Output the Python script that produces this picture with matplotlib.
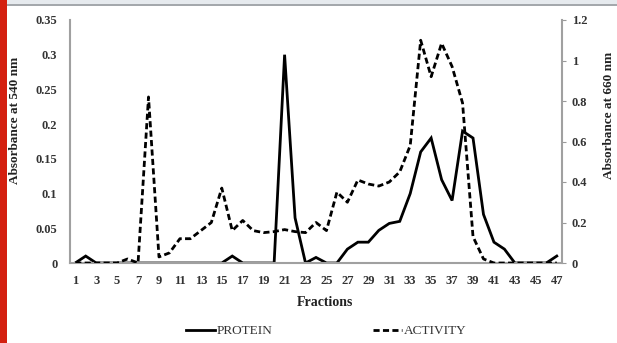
import matplotlib
matplotlib.use("Agg")
import matplotlib.pyplot as plt
from matplotlib.patches import Rectangle
from matplotlib.lines import Line2D

fractions = list(range(1, 48))
tick_fractions = list(range(1, 48, 2))

protein = [0, 0.01, 0, 0, 0, 0, 0, 0, 0, 0,
           0, 0, 0, 0, 0, 0.01, 0, 0, 0, 0,
           0.30, 0.065, 0, 0.008, 0, 0, 0.02, 0.03, 0.03, 0.047,
           0.057, 0.06, 0.10, 0.16, 0.18, 0.12, 0.09, 0.19, 0.18, 0.07,
           0.03, 0.02, 0, 0, 0, 0, 0.01]

activity = [0, 0, 0, 0, 0, 0.02, 0, 0.82, 0.03, 0.05,
            0.12, 0.12, 0.16, 0.20, 0.37, 0.16, 0.21, 0.16, 0.15, 0.155,
            0.165, 0.155, 0.15, 0.20, 0.16, 0.35, 0.30, 0.41, 0.39, 0.38,
            0.40, 0.45, 0.58, 1.10, 0.92, 1.085, 0.97, 0.79, 0.13, 0.02,
            0, 0, 0, 0, 0, 0, 0]

left_ticks = [0, 0.05, 0.1, 0.15, 0.2, 0.25, 0.3, 0.35]
left_labels = ["0", "0.05", "0.1", "0.15", "0.2", "0.25", "0.3", "0.35"]
right_ticks = [0, 0.2, 0.4, 0.6, 0.8, 1.0, 1.2]
right_labels = ["0", "0.2", "0.4", "0.6", "0.8", "1", "1.2"]

W, H = 617, 343
fig = plt.figure(figsize=(W / 100, H / 100), dpi=100)
fig.patch.set_facecolor("white")

# frame decorations
fig.patches.append(Rectangle((0, 0), 7 / W, 1, transform=fig.transFigure,
                             facecolor="#d42010", edgecolor="none", zorder=0))
fig.patches.append(Rectangle((7 / W, 1 - 4 / H), 1, 4 / H, transform=fig.transFigure,
                             facecolor="#e6eaee", edgecolor="none", zorder=0))
fig.patches.append(Rectangle((7 / W, 1 - 6 / H), 1, 2 / H, transform=fig.transFigure,
                             facecolor="#a4a8ac", edgecolor="none", zorder=0))

x0, x1, y0, y1 = 70, 562, 20, 263
ax = fig.add_axes([x0 / W, 1 - y1 / H, (x1 - x0) / W, (y1 - y0) / H])
ax2 = ax.twinx()

font = dict(family="Liberation Serif", weight="bold")
tfs = 9

ax.plot(fractions, protein, color="black", lw=2.0, solid_joinstyle="miter")
ax2.plot(fractions, activity, color="black", lw=2.0, linestyle=(0, (2.2, 1.2)))

ax.set_xlim(0.5, 47.5)
ax.set_ylim(0, 0.35)
ax2.set_ylim(0, 1.2)

ax.set_xticks(tick_fractions)
ax.set_xticklabels([str(f) for f in tick_fractions], fontsize=tfs, **font)
ax.set_yticks(left_ticks)
ax.set_yticklabels(left_labels, fontsize=tfs, **font)
ax2.set_yticks(right_ticks)
ax2.set_yticklabels(right_labels, fontsize=tfs, **font)

ax.tick_params(axis="x", length=0, pad=9, colors="#333333")
ax.tick_params(axis="y", length=0, pad=9, colors="#333333")
ax2.tick_params(axis="y", length=3, width=0.8, color="#999999", pad=4, colors="#333333")

for a in (ax, ax2):
    for s in a.spines.values():
        s.set_visible(False)
ax.spines["left"].set_visible(True)
ax.spines["bottom"].set_visible(True)
ax2.spines["right"].set_visible(True)
for s in ("left", "bottom"):
    ax.spines[s].set_color("#a0a0a0")
    ax.spines[s].set_linewidth(1.5)
ax2.spines["right"].set_color("#a0a0a0")
ax2.spines["right"].set_linewidth(1.5)

fig.text(15 / W, 1 - 120 / H, "Absorbance at 540 nm", rotation=90,
         ha="center", va="center", fontsize=9.5, color="#222222", **font)
fig.text(609 / W, 1 - 115 / H, "Absorbance at 660 nm", rotation=90,
         ha="center", va="center", fontsize=9.5, color="#222222", **font)
fig.text(325 / W, 1 - 302 / H, "Fractions", ha="center", va="center",
         fontsize=10, color="#222222", **font)

handles = [Line2D([], [], color="black", lw=2.0),
           Line2D([], [], color="black", lw=2.0, linestyle=(0, (2.2, 1.2)))]
fig.legend(handles, ["PROTEIN", "ACTIVITY"], loc="center",
           bbox_to_anchor=(326 / W, 1 - 331 / H), ncol=2, frameon=False,
           prop=dict(family="Liberation Serif", size=9.5),
           handlelength=2.25, handletextpad=0.1, columnspacing=7.6,
           labelcolor="#333333")

fig.savefig("out.png", dpi=100, facecolor="white")
